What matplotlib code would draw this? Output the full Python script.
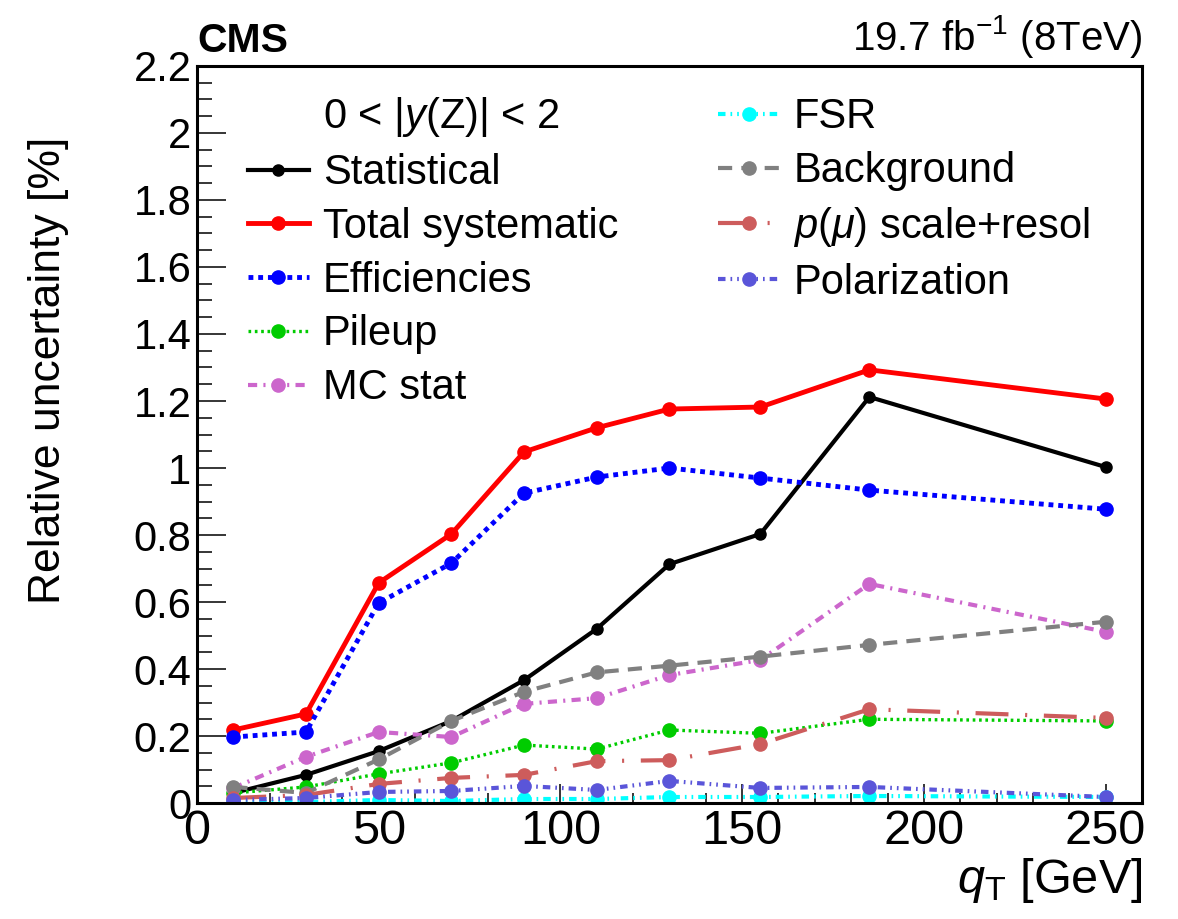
import matplotlib
matplotlib.use("Agg")
import matplotlib.pyplot as plt
from matplotlib.lines import Line2D
from matplotlib.ticker import MultipleLocator, FormatStrFormatter

plt.rcParams['font.family'] = ['Liberation Sans', 'DejaVu Sans']
plt.rcParams['mathtext.fontset'] = 'custom'
plt.rcParams['mathtext.rm'] = 'Liberation Sans'
plt.rcParams['mathtext.it'] = 'Liberation Sans:italic'
plt.rcParams['mathtext.bf'] = 'Liberation Sans:bold'

# qT bin centres (GeV)
qt = [10, 30, 50, 70, 90, 110, 130, 155, 185, 250]

# relative uncertainties in %
statistical = [0.03, 0.084, 0.155, 0.245, 0.367, 0.52, 0.713, 0.803, 1.212, 1.003]
total_syst = [0.218, 0.266, 0.657, 0.803, 1.048, 1.12, 1.176, 1.182, 1.293, 1.206]
efficiencies = [0.197, 0.212, 0.597, 0.716, 0.925, 0.973, 1.0, 0.970, 0.934, 0.877]
pileup = [0.03, 0.048, 0.087, 0.12, 0.173, 0.161, 0.218, 0.208, 0.25, 0.245]
mc_stat = [0.045, 0.138, 0.212, 0.197, 0.296, 0.313, 0.382, 0.427, 0.654, 0.511]
fsr = [0.002, 0.003, 0.009, 0.006, 0.012, 0.012, 0.018, 0.018, 0.021, 0.018]
background = [0.048, 0.03, 0.13, 0.245, 0.332, 0.39, 0.41, 0.437, 0.472, 0.541]
pmu_scale = [0.015, 0.024, 0.057, 0.075, 0.084, 0.125, 0.128, 0.176, 0.28, 0.254]
polarization = [0.009, 0.015, 0.033, 0.036, 0.051, 0.039, 0.066, 0.045, 0.048, 0.018]

fig = plt.figure(figsize=(11.78, 9.19), dpi=100)
ax = fig.add_axes([0.1672, 0.1262, 0.8022, 0.802])

series = [
    (statistical, 'Statistical', 'black', 3.0, None, 8),
    (total_syst, 'Total systematic', '#ff0000', 3.5, None, 9.5),
    (efficiencies, 'Efficiencies', '#0000ff', 3.5, (1, 1), 9.5),
    (pileup, 'Pileup', '#00cc00', 2.4, (0.8, 1.1), 9.5),
    (mc_stat, 'MC stat', '#cc66cc', 3.0, (2.2, 1.5, 0.5, 1.5), 9.5),
    (fsr, 'FSR', '#00ffff', 3.0, (1.8, 1.2, 0.4, 1.2, 0.4, 1.2), 9.5),
    (background, 'Background', '#808080', 3.0, (3.4, 2.2), 9.5),
    (pmu_scale, r'$p(\mu)$ scale+resol', '#cd5c5c', 3.0, (7.9, 4, 0.5, 4), 9.5),
    (polarization, 'Polarization', '#5a55d9', 3.0, (1.8, 1.2, 0.4, 1.2, 0.4, 1.2), 9.5),
]

handles = {}
for vals, name, col, lw, dash, ms in series:
    ln, = ax.plot(qt, vals, color=col, lw=lw, marker='o', ms=ms, label=name)
    if dash is not None:
        ln.set_dashes(dash)
    handles[name] = ln

# reference line at 1 %
ax.plot([0, 260], [1, 1], color='black', lw=3.2, dashes=(0, 5.3),
        dash_capstyle='round')

ax.set_xlim(0, 260)
ax.set_ylim(0, 2.2)
ax.xaxis.set_major_locator(MultipleLocator(50))
ax.xaxis.set_minor_locator(MultipleLocator(10))
ax.yaxis.set_major_locator(MultipleLocator(0.2))
ax.yaxis.set_minor_locator(MultipleLocator(0.05))
ax.yaxis.set_major_formatter(FormatStrFormatter('%g'))

ax.tick_params(axis='both', which='both', direction='in', top=False, right=False, width=1.1)
ax.tick_params(axis='y', which='major', length=21, labelsize=30, pad=4)
ax.tick_params(axis='y', which='minor', length=11)
ax.tick_params(axis='x', which='major', length=14, labelsize=35, pad=4)
ax.tick_params(axis='x', which='minor', length=7)
for sp in ax.spines.values():
    sp.set_linewidth(2.2)

ax.set_ylabel('Relative uncertainty [%]', fontsize=32)
ax.yaxis.set_label_coords(-0.135, 0.5875)
ax.set_xlabel(r'$q_{\mathrm{T}}$ [GeV]', fontsize=35, loc='right')
ax.xaxis.set_label_coords(1.0, -0.072)

fig.text(0.1672, 0.935, 'CMS', fontsize=29.5, fontweight='bold', ha='left', va='bottom')
fig.text(0.9694, 0.935, r'19.7 fb$^{\mathregular{-1}}$ (8TeV)', fontsize=29,
         ha='right', va='bottom')

blank = Line2D([], [], color='none')
leg_handles = [blank, handles['Statistical'], handles['Total systematic'],
               handles['Efficiencies'], handles['Pileup'], handles['MC stat'],
               handles['FSR'], handles['Background'],
               handles[r'$p(\mu)$ scale+resol'], handles['Polarization'],
               blank, blank]
leg_labels = [r'0 < |$y$(Z)| < 2', 'Statistical', 'Total systematic',
              'Efficiencies', 'Pileup', 'MC stat',
              'FSR', 'Background', r'$p(\mu)$ scale+resol', 'Polarization',
              ' ', ' ']
ax.legend(leg_handles, leg_labels, ncol=2, loc='upper left',
          bbox_to_anchor=(0.054, 0.960), frameon=False, fontsize=30,
          borderpad=0, borderaxespad=0, handlelength=1.46, handletextpad=0.34,
          labelspacing=0.33, columnspacing=2.4, numpoints=1)

fig.savefig('out.png', dpi=100)
